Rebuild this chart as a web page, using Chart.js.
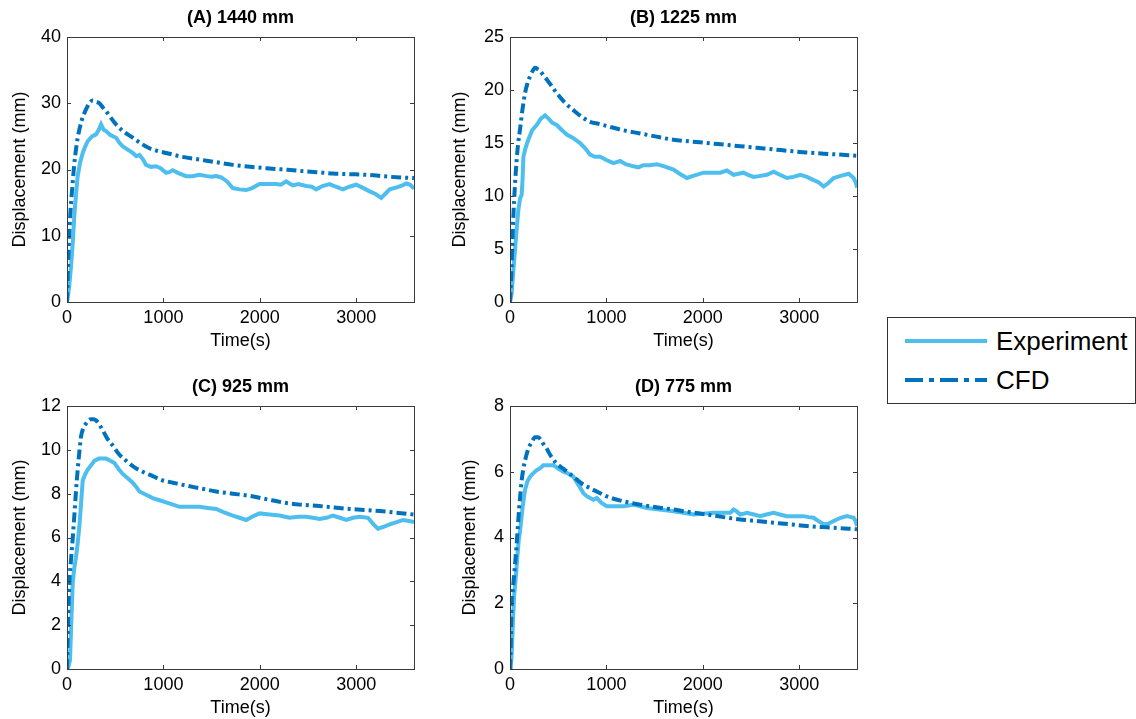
<!DOCTYPE html>
<html>
<head>
<meta charset="utf-8">
<script src="https://cdn.jsdelivr.net/npm/chart.js@4.4.0/dist/chart.umd.min.js"></script>
<style>
  body { margin: 0; background: #fff; width: 1136px; height: 719px; position: relative; overflow: hidden; font-family: "Liberation Sans", Arial, sans-serif; }
  canvas { position: absolute; }
  #legend { position: absolute; left: 887px; top: 317px; width: 249px; height: 87px; box-sizing: border-box; border: 1px solid #333; background: #fff; }
  #legend .row { position: absolute; left: 17px; height: 30px; display: flex; align-items: center; }
  #legend svg { display: block; }
  #legend span { margin-left: 9px; font-size: 26px; color: #000; line-height: 30px; }
</style>
</head>
<body>
<canvas id="cA" width="440" height="355" style="left:0;top:0"></canvas>
<canvas id="cB" width="440" height="355" style="left:440px;top:0"></canvas>
<canvas id="cC" width="440" height="355" style="left:0;top:369px"></canvas>
<canvas id="cD" width="440" height="355" style="left:440px;top:369px"></canvas>
<div id="legend">
  <div class="row" style="top:8px"><svg width="82" height="10"><line x1="0" y1="5" x2="82" y2="5" stroke="#4DBEEE" stroke-width="4"/></svg><span>Experiment</span></div>
  <div class="row" style="top:47px"><svg width="82" height="10"><line x1="0" y1="5" x2="82" y2="5" stroke="#0072BD" stroke-width="4" stroke-dasharray="18,6,5,6"/></svg><span>CFD</span></div>
</div>
<script>
// (A) 1440 mm
const expTimeA = [0,20,42,60,76,95,111,135,163,190,215,260,301,330,353,380,405,450,509,545,578,630,682,720,751,790,820,870,924,970,1028,1060,1097,1150,1236,1300,1374,1450,1500,1547,1600,1660,1720,1790,1859,1920,1997,2080,2170,2220,2274,2343,2400,2482,2540,2585,2650,2724,2790,2862,2930,3000,3060,3140,3200,3260,3300,3348,3420,3480,3521,3560,3600];
const expA = [0,2,5.4,9,13,16.5,19,21,22.5,23.5,24.3,25,25.3,26,26.8,26,25.8,25.2,24.8,24,23.5,23,22.5,22,22.2,21.5,20.7,20.4,20.5,20.2,19.5,19.6,19.9,19.5,19,19,19.2,19,18.9,19,18.8,18.2,17.2,17,16.9,17.2,17.8,17.8,17.8,17.7,18.2,17.6,17.8,17.5,17.4,17,17.5,17.8,17.4,17,17.4,17.7,17.3,16.7,16.3,15.7,16.3,17,17.3,17.6,17.9,17.7,17.1];
const cfdTimeA = [0,12,24,40,59,75,93,110,128,150,180,205,232,267,300,336,370,405,450,509,580,682,760,855,940,1028,1200,1374,1550,1720,1900,2067,2240,2413,2590,2760,2930,3105,3350,3600];
const cfdA = [0,6,10.4,14.5,18,20.8,23,24.7,26,27.3,28.5,29.3,30,30.4,30.2,30,29.4,28.8,27.9,26.8,25.8,24.8,24,23.2,22.8,22.5,21.9,21.5,21.1,20.7,20.4,20.2,20,19.8,19.6,19.4,19.3,19.2,18.9,18.7];

// (B) 1225 mm
const expTimeB = [0,17,35,52,70,87,105,121,130,139,160,190,230,277,320,364,400,440,485,540,589,650,727,780,831,880,935,1000,1073,1142,1200,1281,1330,1385,1450,1523,1600,1696,1760,1835,1900,2008,2100,2181,2250,2319,2370,2423,2470,2527,2600,2665,2735,2800,2873,2940,3012,3080,3150,3200,3254,3300,3358,3430,3513,3565,3590,3600];
const expB = [0,0.8,3,4.9,7,8.7,9.8,10.1,11.5,13.7,14.5,15.3,16.2,16.7,17.3,17.6,17.3,16.9,16.7,16.2,15.8,15.5,15,14.5,13.9,13.7,13.7,13.4,13.1,13.3,13,12.8,12.7,12.9,12.9,13,12.8,12.5,12.1,11.7,11.9,12.2,12.2,12.2,12.4,12,12.1,12.2,12,11.8,11.9,12,12.3,12,11.7,11.8,12,11.8,11.5,11.3,10.9,11.2,11.7,11.9,12.1,11.7,11.2,10.8];
const cfdTimeB = [0,8,17,26,35,50,69,85,104,130,156,180,208,235,260,290,312,345,381,430,485,570,658,740,831,920,1004,1177,1350,1520,1696,1870,2042,2215,2388,2560,2735,2900,3081,3340,3600];
const cfdB = [0,1.5,3.4,5.9,8.1,10.8,13.4,15,16.3,18.2,19.7,20.6,21.3,21.8,22.1,21.95,21.8,21.4,21,20.4,19.7,18.8,18.1,17.5,17,16.8,16.6,16.2,15.9,15.6,15.3,15.15,15,14.85,14.7,14.55,14.4,14.25,14.1,13.95,13.8];

// (C) 925 mm
const expTimeC = [0,15,31,45,59,75,93,110,128,145,163,190,215,250,284,330,370,405,450,492,540,578,630,682,720,751,820,889,960,1028,1100,1166,1270,1374,1460,1547,1630,1720,1790,1859,1920,1997,2100,2205,2260,2309,2400,2482,2550,2620,2690,2759,2830,2897,2970,3036,3122,3180,3226,3290,3347,3420,3486,3550,3600];
const expC = [0,0.1,0.4,2.2,3.9,4.6,5.1,5.7,6.5,7.5,8.6,8.9,9.1,9.3,9.5,9.6,9.6,9.6,9.5,9.4,9.1,8.9,8.7,8.5,8.3,8.1,7.95,7.8,7.7,7.6,7.5,7.4,7.4,7.4,7.35,7.3,7.15,7,6.9,6.8,6.95,7.1,7.05,7,6.95,6.9,6.95,6.95,6.9,6.85,6.9,7,6.9,6.8,6.9,6.95,6.9,6.6,6.4,6.5,6.6,6.7,6.8,6.75,6.7];
const cfdTimeC = [0,10,24,42,60,76,93,111,128,145,170,197,225,249,275,301,335,370,420,474,540,613,700,786,890,994,1100,1201,1374,1547,1720,1894,2067,2240,2413,2585,2760,2932,3105,3278,3440,3600];
const cfdC = [0,2,3.9,5,6,7,8.1,9.1,9.9,10.6,11,11.2,11.35,11.4,11.4,11.35,11.15,10.9,10.5,10.2,9.8,9.5,9.2,9,8.8,8.6,8.5,8.4,8.25,8.1,8,7.9,7.75,7.6,7.5,7.45,7.37,7.3,7.25,7.2,7.12,7.05];

// (D) 775 mm
const expTimeD = [0,8,17,30,42,60,76,90,104,130,156,180,208,240,277,310,346,400,450,500,554,600,658,710,762,800,831,865,900,950,1004,1090,1177,1230,1281,1350,1419,1550,1696,1800,1904,2000,2112,2200,2285,2319,2350,2388,2420,2458,2530,2596,2660,2735,2800,2873,2960,3046,3100,3150,3200,3254,3300,3358,3430,3496,3540,3565,3585,3600];
const expD = [0,0.1,0.4,1.4,2.2,2.8,3.4,3.9,4.2,4.9,5.45,5.7,5.85,5.95,6.05,6.1,6.2,6.2,6.2,6.1,6,5.95,5.85,5.6,5.35,5.25,5.2,5.15,5.2,5.05,4.95,4.95,4.95,4.97,5,4.95,4.9,4.85,4.8,4.75,4.7,4.72,4.75,4.75,4.75,4.85,4.8,4.7,4.72,4.75,4.7,4.65,4.7,4.75,4.7,4.65,4.65,4.65,4.62,4.6,4.5,4.4,4.42,4.5,4.6,4.65,4.62,4.6,4.5,4.35];
const cfdTimeD = [0,7,17,26,35,50,69,85,104,120,139,165,190,225,260,290,312,345,381,430,485,570,658,740,831,920,1004,1177,1350,1520,1696,1870,2042,2215,2388,2560,2735,2910,3081,3340,3600];
const cfdD = [0,0.6,2,2.3,2.6,3.1,3.8,4.5,5.2,5.7,6.1,6.45,6.7,6.9,7.05,7.05,7,6.85,6.7,6.45,6.25,6.05,5.85,5.65,5.5,5.37,5.25,5.1,5,4.92,4.85,4.77,4.7,4.62,4.55,4.5,4.45,4.4,4.35,4.3,4.25];

const titles = ['(A) 1440 mm', '(B) 1225 mm', '(C) 925 mm', '(D) 775 mm'];
const yMaxes = [40, 25, 12, 8];
const ySteps = [10, 5, 2, 2];
const xTicks = [0, 1000, 2000, 3000];

const expColor = '#4DBEEE';
const cfdColor = '#0072BD';
const font = '"Liberation Sans", Arial, sans-serif';

// box round the plot with inward tick marks, like the original
const framePlugin = {
  id: 'frame',
  afterDatasetsDraw(chart) {
    const { ctx, chartArea: a, scales: { x, y } } = chart;
    ctx.save();
    ctx.strokeStyle = '#3a3a3a';
    ctx.lineWidth = 1;
    ctx.strokeRect(Math.round(a.left) + 0.5, Math.round(a.top) + 0.5, Math.round(a.width), Math.round(a.height));
    ctx.beginPath();
    x.ticks.forEach(t => {
      const px = Math.round(x.getPixelForValue(t.value)) + 0.5;
      ctx.moveTo(px, a.bottom); ctx.lineTo(px, a.bottom - 4);
      ctx.moveTo(px, a.top); ctx.lineTo(px, a.top + 4);
    });
    y.ticks.forEach(t => {
      const py = Math.round(y.getPixelForValue(t.value)) + 0.5;
      ctx.moveTo(a.left, py); ctx.lineTo(a.left + 4, py);
      ctx.moveTo(a.right, py); ctx.lineTo(a.right - 4, py);
    });
    ctx.stroke();
    ctx.restore();
  }
};

function pts(ts, vs) {
  return ts.map((t, i) => ({ x: t, y: vs[i] }));
}

function makePanel(id, idx, expT, expV, cfdT, cfdV, yWidth, xHeight, yTitlePad, xTitlePad) {
  new Chart(document.getElementById(id), {
    type: 'line',
    data: {
      datasets: [
        {
          label: 'Experiment',
          data: pts(expT, expV),
          borderColor: expColor,
          borderWidth: 4,
          pointRadius: 0,
          tension: 0,
          order: 1
        },
        {
          label: 'CFD',
          data: pts(cfdT, cfdV),
          borderColor: cfdColor,
          borderWidth: 4,
          borderDash: [10, 4, 3, 4],
          pointRadius: 0,
          cubicInterpolationMode: 'monotone',
          order: 0
        }
      ]
    },
    options: {
      responsive: false,
      animation: false,
      layout: { padding: { left: 0, right: 440 - 347 - yWidth, top: 0, bottom: 0 } },
      plugins: {
        legend: { display: false },
        tooltip: { enabled: false }
      },
      scales: {
        x: {
          type: 'linear',
          min: 0,
          max: 3600,
          grid: { display: false, drawTicks: false },
          border: { display: false },
          afterBuildTicks: s => { s.ticks = xTicks.map(v => ({ value: v })); },
          afterFit: s => { s.height = xHeight; },
          ticks: { color: '#000', padding: 5, font: { family: font, size: 18 }, maxRotation: 0, callback: v => String(v) },
          title: {
            display: true,
            text: 'Time(s)',
            color: '#000',
            font: { family: font, size: 18 },
            padding: { top: 0, bottom: xTitlePad }
          }
        },
        // top axis only carries the panel title, centred over the plot box
        xTop: {
          type: 'linear',
          axis: 'x',
          position: 'top',
          min: 0,
          max: 3600,
          grid: { display: false, drawTicks: false },
          border: { display: false },
          ticks: { display: false },
          afterFit: s => { s.height = 37; },
          title: {
            display: true,
            text: titles[idx],
            color: '#000',
            font: { family: font, size: 18, weight: 'bold' },
            padding: { top: 7, bottom: 0 }
          }
        },
        y: {
          min: 0,
          max: yMaxes[idx],
          grid: { display: false, drawTicks: false },
          border: { display: false },
          afterFit: s => { s.width = yWidth; },
          ticks: { stepSize: ySteps[idx], color: '#000', padding: 6, font: { family: font, size: 18 } },
          title: {
            display: true,
            text: 'Displacement (mm)',
            color: '#000',
            font: { family: font, size: 18 },
            padding: { top: yTitlePad, bottom: 0 }
          }
        }
      }
    },
    plugins: [framePlugin]
  });
}

makePanel('cA', 0, expTimeA, expA, cfdTimeA, cfdA, 67, 53, 9, 3);
makePanel('cB', 1, expTimeB, expB, cfdTimeB, cfdB, 70, 53, 9, 3);
makePanel('cC', 2, expTimeC, expC, cfdTimeC, cfdC, 67, 55, 9, 5);
makePanel('cD', 3, expTimeD, expD, cfdTimeD, cfdD, 70, 55, 19, 5);
</script>
</body>
</html>
